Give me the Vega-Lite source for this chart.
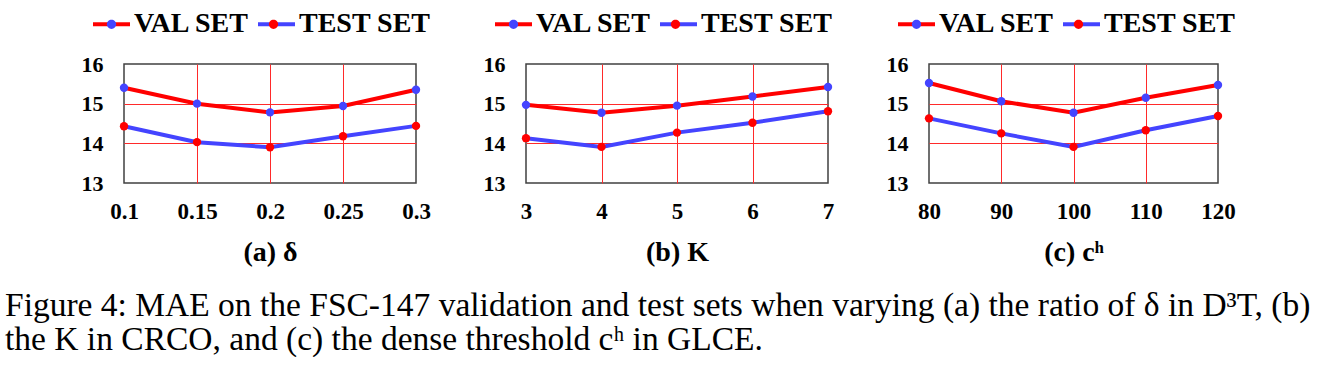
{
  "$schema": "https://vega.github.io/schema/vega-lite/v6.json",
  "padding": {"left": 5, "top": 2, "right": 0, "bottom": 0},
  "background": "white",
  "datasets": {
    "a": [
      {"x": 0.1, "series": "VAL SET", "mae": 15.40},
      {"x": 0.15, "series": "VAL SET", "mae": 15.00},
      {"x": 0.2, "series": "VAL SET", "mae": 14.78},
      {"x": 0.25, "series": "VAL SET", "mae": 14.94},
      {"x": 0.3, "series": "VAL SET", "mae": 15.35},
      {"x": 0.1, "series": "TEST SET", "mae": 14.43},
      {"x": 0.15, "series": "TEST SET", "mae": 14.03},
      {"x": 0.2, "series": "TEST SET", "mae": 13.90},
      {"x": 0.25, "series": "TEST SET", "mae": 14.18},
      {"x": 0.3, "series": "TEST SET", "mae": 14.44}
    ],
    "b": [
      {"x": 3, "series": "VAL SET", "mae": 14.97},
      {"x": 4, "series": "VAL SET", "mae": 14.77},
      {"x": 5, "series": "VAL SET", "mae": 14.95},
      {"x": 6, "series": "VAL SET", "mae": 15.18},
      {"x": 7, "series": "VAL SET", "mae": 15.42},
      {"x": 3, "series": "TEST SET", "mae": 14.13},
      {"x": 4, "series": "TEST SET", "mae": 13.91},
      {"x": 5, "series": "TEST SET", "mae": 14.27},
      {"x": 6, "series": "TEST SET", "mae": 14.52},
      {"x": 7, "series": "TEST SET", "mae": 14.81}
    ],
    "c": [
      {"x": 80, "series": "VAL SET", "mae": 15.52},
      {"x": 90, "series": "VAL SET", "mae": 15.06},
      {"x": 100, "series": "VAL SET", "mae": 14.77},
      {"x": 110, "series": "VAL SET", "mae": 15.15},
      {"x": 120, "series": "VAL SET", "mae": 15.47},
      {"x": 80, "series": "TEST SET", "mae": 14.63},
      {"x": 90, "series": "TEST SET", "mae": 14.25},
      {"x": 100, "series": "TEST SET", "mae": 13.91},
      {"x": 110, "series": "TEST SET", "mae": 14.33},
      {"x": 120, "series": "TEST SET", "mae": 14.69}
    ]
  },
  "title": {
    "text": [
      "Figure 4: MAE on the FSC-147 validation and test sets when varying (a) the ratio of δ in D³T, (b)",
      "the K in CRCO, and (c) the dense threshold cʰ in GLCE."
    ],
    "orient": "bottom",
    "anchor": "start",
    "frame": "group",
    "dx": -119,
    "offset": 23,
    "baseline": "top",
    "font": "Times New Roman, Liberation Serif, serif",
    "fontSize": 33.5,
    "fontWeight": "normal",
    "color": "black",
    "lineHeight": 34
  },
  "config": {
    "view": {"stroke": "#404040", "strokeWidth": 1.5},
    "axis": {
      "labelFont": "Times New Roman, Liberation Serif, serif",
      "labelFontWeight": "bold",
      "labelFontSize": 22,
      "labelColor": "black",
      "labelFlush": false,
      "labelOverlap": false,
      "labelExpr": "'' + datum.value",
      "domain": false,
      "ticks": false,
      "grid": true,
      "gridColor": "#ff2a2a",
      "gridWidth": 1,
      "titleFont": "Times New Roman, Liberation Serif, serif",
      "titleFontWeight": "bold",
      "titleFontSize": 28,
      "titleColor": "black"
    },
    "axisX": {"labelPadding": 17, "titlePadding": 15, "labelFontSize": 23},
    "axisY": {"labelPadding": 21},
    "legend": {
      "orient": "none",
      "legendX": -33,
      "legendY": -60.5,
      "direction": "horizontal",
      "padding": 0,
      "labelFont": "Times New Roman, Liberation Serif, serif",
      "labelFontWeight": "bold",
      "labelFontSize": 28,
      "labelColor": "black",
      "labelOffset": 2,
      "columnPadding": 0,
      "symbolSize": 1369,
      "symbolStrokeWidth": 4
    }
  },
  "resolve": {"scale": {"stroke": "independent", "fill": "independent"}, "legend": {"stroke": "independent", "fill": "independent"}},
  "bounds": "flush",
  "spacing": 110,
  "hconcat": [
    {
      "width": 292, "height": 119,
      "data": {"name": "a"},
      "encoding": {
        "x": {"field": "x", "type": "quantitative", "title": "(a) δ",
          "scale": {"domain": [0.1, 0.3], "nice": false, "zero": false},
          "axis": {"values": [0.1, 0.15, 0.2, 0.25, 0.3],
            "gridOpacity": {"condition": {"test": "datum.value === 0.1 || datum.value === 0.3", "value": 0}, "value": 1}}},
        "y": {"field": "mae", "type": "quantitative", "title": null,
          "scale": {"domain": [13, 16], "nice": false, "zero": false},
          "axis": {"values": [13, 14, 15, 16],
            "gridOpacity": {"condition": {"test": "datum.value === 13 || datum.value === 16", "value": 0}, "value": 1}}}
      },
      "layer": [
        {"mark": {"type": "line", "strokeWidth": 4},
          "encoding": {"stroke": {"field": "series", "type": "nominal",
            "scale": {"domain": ["VAL SET", "TEST SET"], "range": ["#ff0000", "#4444ff"]},
            "legend": {"title": null, "symbolType": "M-1,0H1"}}}},
        {"mark": {"type": "point", "filled": true, "size": 70, "opacity": 1, "strokeWidth": 0},
          "encoding": {"fill": {"field": "series", "type": "nominal", "sort": ["VAL SET", "TEST SET"],
            "scale": {"range": ["#4444ff", "#ff0000"]},
            "legend": {"title": null, "symbolType": "M-0.25,0A0.25,0.25,0,1,0,0.25,0A0.25,0.25,0,1,0,-0.25,0Z", "symbolStrokeColor": "transparent", "labelExpr": "''", "columnPadding": 119, "zindex": 1}}}}
      ]
    },
    {
      "bounds": "flush",
      "spacing": 101,
      "resolve": {"scale": {"stroke": "independent", "fill": "independent"}, "legend": {"stroke": "independent", "fill": "independent"}},
      "hconcat": [
        {
          "width": 302, "height": 119,
          "data": {"name": "b"},
          "encoding": {
            "x": {"field": "x", "type": "quantitative", "title": "(b) K",
              "scale": {"domain": [3, 7], "nice": false, "zero": false},
              "axis": {"values": [3, 4, 5, 6, 7],
                "gridOpacity": {"condition": {"test": "datum.value === 3 || datum.value === 7", "value": 0}, "value": 1}}},
            "y": {"field": "mae", "type": "quantitative", "title": null,
              "scale": {"domain": [13, 16], "nice": false, "zero": false},
              "axis": {"values": [13, 14, 15, 16],
                "gridOpacity": {"condition": {"test": "datum.value === 13 || datum.value === 16", "value": 0}, "value": 1}}}
          },
          "layer": [
            {"mark": {"type": "line", "strokeWidth": 4},
              "encoding": {"stroke": {"field": "series", "type": "nominal",
                "scale": {"domain": ["VAL SET", "TEST SET"], "range": ["#ff0000", "#4444ff"]},
                "legend": {"title": null, "symbolType": "M-1,0H1"}}}},
            {"mark": {"type": "point", "filled": true, "size": 70, "opacity": 1, "strokeWidth": 0},
              "encoding": {"fill": {"field": "series", "type": "nominal", "sort": ["VAL SET", "TEST SET"],
                "scale": {"range": ["#4444ff", "#ff0000"]},
                "legend": {"title": null, "symbolType": "M-0.25,0A0.25,0.25,0,1,0,0.25,0A0.25,0.25,0,1,0,-0.25,0Z", "symbolStrokeColor": "transparent", "labelExpr": "''", "columnPadding": 119, "zindex": 1}}}}
          ]
        },
        {
          "width": 289, "height": 119,
          "data": {"name": "c"},
          "encoding": {
            "x": {"field": "x", "type": "quantitative", "title": "(c) cʰ",
              "scale": {"domain": [80, 120], "nice": false, "zero": false},
              "axis": {"values": [80, 90, 100, 110, 120],
                "gridOpacity": {"condition": {"test": "datum.value === 80 || datum.value === 120", "value": 0}, "value": 1}}},
            "y": {"field": "mae", "type": "quantitative", "title": null,
              "scale": {"domain": [13, 16], "nice": false, "zero": false},
              "axis": {"values": [13, 14, 15, 16],
                "gridOpacity": {"condition": {"test": "datum.value === 13 || datum.value === 16", "value": 0}, "value": 1}}}
          },
          "layer": [
            {"mark": {"type": "line", "strokeWidth": 4},
              "encoding": {"stroke": {"field": "series", "type": "nominal",
                "scale": {"domain": ["VAL SET", "TEST SET"], "range": ["#ff0000", "#4444ff"]},
                "legend": {"title": null, "symbolType": "M-1,0H1"}}}},
            {"mark": {"type": "point", "filled": true, "size": 70, "opacity": 1, "strokeWidth": 0},
              "encoding": {"fill": {"field": "series", "type": "nominal", "sort": ["VAL SET", "TEST SET"],
                "scale": {"range": ["#4444ff", "#ff0000"]},
                "legend": {"title": null, "symbolType": "M-0.25,0A0.25,0.25,0,1,0,0.25,0A0.25,0.25,0,1,0,-0.25,0Z", "symbolStrokeColor": "transparent", "labelExpr": "''", "columnPadding": 119, "zindex": 1}}}}
          ]
        }
      ]
    }
  ]
}
